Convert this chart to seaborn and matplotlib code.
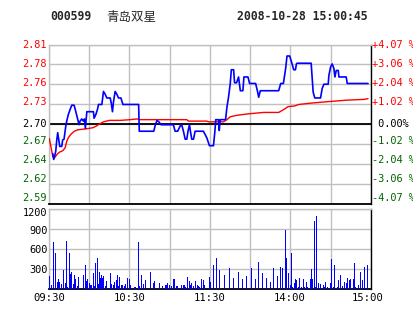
import matplotlib
matplotlib.use("Agg")
import matplotlib.pyplot as plt
import matplotlib.transforms as mtrans
import seaborn as sns
import pandas as pd

sns.set_style("white")
plt.rcParams['font.family'] = ['DejaVu Sans Mono', 'Noto Sans CJK SC']

# ---------------- data ----------------
stock_code = "000599"
stock_name = "青岛双星"
timestamp = "2008-10-28 15:00:45"
prev_close = 2.70
max_pct = 4.07

price_labels = ["2.59", "2.62", "2.64", "2.67", "2.70", "2.73", "2.76", "2.78", "2.81"]
pct_labels = ["-4.07 %", "-3.06 %", "-2.04 %", "-1.02 %", " 0.00%", "+1.02 %", "+2.04 %", "+3.06 %", "+4.07 %"]
vol_labels = ["300", "600", "900", "1200"]
vol_ticks = [300, 600, 900, 1200]
time_labels = ["09:30", "10:30", "11:30", "14:00", "15:00"]
time_ticks = [0, 60, 120, 180, 240]

# minute index since 09:30 (lunch break removed) and price
price_t = [2.8, 3.5, 4.5, 5.0, 5.8, 6.5, 7.3, 8.0, 9.5, 10.2, 11.2, 12.5, 13.2, 14.4, 15.7, 17.0,
           18.7, 20.0, 21.2, 22.4, 23.2, 24.4, 25.6, 26.4, 27.1, 28.2, 33.1, 33.6, 34.9, 36.1, 36.9,
           39.4, 40.6, 41.9, 43.1, 45.6, 46.4, 47.3, 48.1, 49.3, 50.6, 51.8, 53.6, 55.1, 66.8, 67.3,
           78.1, 79.3, 80.5, 81.9, 83.5, 92.7, 94.0, 95.9, 97.7, 98.9, 100.2, 101.5, 102.7, 103.6,
           104.7, 105.4, 106.4, 107.7, 108.9, 115.1, 117.6, 119.6, 122.6, 123.6, 124.3, 126.4, 126.9,
           127.6, 131.6, 132.6, 133.8, 135.1, 135.9, 137.6, 138.3, 139.8, 141.3, 142.6, 144.5, 145.3,
           148.3, 149.5, 154.0, 155.3, 156.3, 157.5, 158.9, 171.2, 172.7, 174.7, 176.4, 177.4, 179.4,
           181.2, 182.4, 183.7, 184.4, 184.9, 195.4, 196.1, 196.9, 198.1, 202.4, 203.6, 204.9, 208.1,
           208.6, 209.9, 211.1, 212.3, 213.1, 214.1, 215.6, 216.1, 221.5, 222.3, 237.8]
price_v = [2.659, 2.651, 2.658, 2.662, 2.678, 2.688, 2.678, 2.669, 2.669, 2.678, 2.679, 2.697, 2.704,
           2.713, 2.720, 2.726, 2.726, 2.717, 2.708, 2.699, 2.704, 2.707, 2.704, 2.707, 2.694, 2.717,
           2.717, 2.708, 2.713, 2.720, 2.727, 2.727, 2.745, 2.741, 2.736, 2.736, 2.729, 2.717, 2.731,
           2.745, 2.741, 2.736, 2.736, 2.727, 2.727, 2.690, 2.690, 2.699, 2.705, 2.703, 2.699, 2.699,
           2.690, 2.690, 2.697, 2.699, 2.690, 2.679, 2.679, 2.690, 2.699, 2.690, 2.679, 2.679, 2.690,
           2.690, 2.681, 2.670, 2.670, 2.689, 2.706, 2.706, 2.691, 2.706, 2.706, 2.723, 2.737, 2.756,
           2.775, 2.775, 2.757, 2.757, 2.765, 2.746, 2.746, 2.765, 2.765, 2.756, 2.756, 2.746, 2.737,
           2.746, 2.746, 2.746, 2.756, 2.756, 2.777, 2.794, 2.794, 2.783, 2.775, 2.775, 2.783, 2.784,
           2.784, 2.765, 2.744, 2.736, 2.736, 2.749, 2.755, 2.755, 2.767, 2.779, 2.783, 2.777, 2.765,
           2.774, 2.774, 2.765, 2.765, 2.756, 2.756]

avg_t = [0.2, 1.5, 2.8, 4.0, 6.0, 7.7, 10.2, 12.0, 13.2, 14.4, 16.4, 18.9, 21.5, 26.4, 30.1, 32.9,
         35.1, 37.6, 40.6, 45.1, 53.1, 60.6, 65.6, 68.0, 102.7, 103.9, 117.6, 118.9, 130.1, 132.6,
         135.1, 140.0, 148.3, 160.0, 171.2, 175.0, 178.2, 183.2, 186.2, 196.1, 208.6, 222.3, 234.8, 237.8]
avg_v = [2.680, 2.668, 2.655, 2.653, 2.658, 2.661, 2.663, 2.667, 2.676, 2.681, 2.686, 2.690, 2.692,
         2.693, 2.694, 2.695, 2.697, 2.700, 2.703, 2.705, 2.705, 2.706, 2.707, 2.706, 2.706, 2.704,
         2.704, 2.703, 2.703, 2.706, 2.710, 2.712, 2.714, 2.716, 2.716, 2.720, 2.724, 2.725, 2.727,
         2.729, 2.731, 2.733, 2.734, 2.735]

vol_t = [0.7, 1.5, 3.2, 4.7, 6.5, 7.3, 8.0, 9.2, 10.7, 12.2, 12.9, 13.7, 15.2, 15.7, 16.7, 18.2, 18.9,
         19.7, 20.9, 21.9, 25.4, 27.1, 27.9, 28.6, 30.1, 30.9, 31.9, 33.1, 33.9, 34.6, 36.1, 36.9,
         37.6, 38.4, 39.1, 40.2, 40.6, 41.9, 42.8, 45.8, 46.9, 48.4, 49.1, 50.1, 51.1, 51.8, 52.6,
         54.1, 55.1, 56.1, 57.0, 58.5, 60.0, 61.1, 64.1, 66.8, 67.5, 69.0, 70.5, 72.0, 75.7, 78.0,
         78.7, 82.5, 84.7, 86.9, 87.7, 88.4, 89.9, 91.4, 92.9, 93.7, 94.7, 95.9, 98.9, 100.0, 101.2,
         101.9, 103.4, 104.9, 105.6, 106.4, 107.9, 108.9, 110.4, 111.2, 111.9, 113.9, 114.9, 115.7,
         119.9, 120.4, 122.6, 124.9, 127.1, 130.8, 134.6, 137.6, 141.3, 144.3, 147.3, 151.0, 154.0,
         156.3, 159.2, 162.2, 165.2, 167.5, 170.5, 172.7, 173.7, 174.4, 176.4, 177.1, 178.2, 179.7,
         180.4, 181.5, 182.7, 183.4, 184.2, 185.6, 186.4, 188.2, 189.4, 190.7, 191.6, 192.7, 194.6,
         195.7, 196.4, 197.6, 198.4, 199.1, 200.6, 202.1, 204.3, 205.4, 206.4, 207.6, 209.6, 210.8,
         212.1, 213.1, 215.1, 216.1, 217.1, 219.1, 220.0, 221.5, 222.3, 224.3, 225.0, 227.0, 227.8,
         228.8, 231.0, 232.0, 234.0, 235.0, 237.2]
vol_v = [193, 50, 707, 530, 94, 143, 94, 65, 280, 85, 717, 25, 540, 219, 245, 65, 200,
         143, 35, 170, 200, 355, 120, 143, 85, 50, 50, 230, 40, 380, 465, 65,
         245, 160, 210, 160, 185, 40, 110, 230, 75, 50, 100, 125, 200, 40, 175,
         60, 50, 35, 75, 160, 143, 50, 30, 707, 35, 200, 75, 125, 255, 80,
         110, 90, 35, 50, 50, 90, 60, 35, 150, 140, 40, 35, 60, 60, 60,
         30, 170, 110, 50, 90, 35, 110, 50, 35, 30, 140, 125, 50,
         170, 100, 354, 460, 278, 202, 308, 156, 248, 141, 187, 308, 141,
         400, 232, 156, 96, 308, 187, 330, 315, 300, 886, 455, 240, 60,
         541, 30, 85, 140, 125, 30, 165, 30, 150, 30, 105, 30, 150,
         295, 140, 1012, 30, 1088, 85, 75, 50, 30, 100, 30, 90, 445,
         30, 355, 30, 130, 205, 35, 105, 90, 165, 125, 140, 150, 390,
         30, 60, 255, 130, 320, 355]

# ---------------- styling ----------------
W, H = 414, 314
GRID = "#c0c0c0"
RED = "#ff0000"
GREEN = "#006600"
FS = 7.4

fig = plt.figure(figsize=(W / 100, H / 100), dpi=100)
fig.patch.set_facecolor("white")

ax_p = fig.add_axes([49 / W, 1 - 203.5 / H, 322 / W, 159 / H])
ax_v = fig.add_axes([49 / W, 1 - 288.5 / H, 322 / W, 79.5 / H])

span = prev_close * max_pct / 100
ymin, ymax = prev_close - span, prev_close + span
price_grid = [ymin + k * (ymax - ymin) / 8 for k in range(9)]

for ax in (ax_p, ax_v):
    ax.set_xlim(0, 240)
    ax.set_xticks(list(range(0, 241, 30)))
    ax.tick_params(length=0, labelbottom=False, labelleft=False)
    ax.grid(True, color=GRID, lw=1.0)
    ax.set_axisbelow(True)
    for s in ("top", "left"):
        ax.spines[s].set_color(GRID)
        ax.spines[s].set_linewidth(1.0)
    ax.spines["right"].set_color("black")
    ax.spines["right"].set_linewidth(1.0)
    ax.spines["bottom"].set_color("black")
    ax.spines["bottom"].set_linewidth(1.3)

# price panel
ax_p.set_ylim(ymin, ymax)
ax_p.set_yticks(price_grid)
ax_p.axhline(prev_close, color="black", lw=1.3, zorder=2)

df_price = pd.DataFrame({"t": price_t, "p": price_v})
df_avg = pd.DataFrame({"t": avg_t, "p": avg_v})
sns.lineplot(data=df_avg, x="t", y="p", ax=ax_p, color=RED, lw=1.0,
             estimator=None, sort=False, zorder=3)
sns.lineplot(data=df_price, x="t", y="p", ax=ax_p, color="#0000ff", lw=1.2,
             estimator=None, sort=False, zorder=4)
ax_p.set_xlabel("")
ax_p.set_ylabel("")

# label offsets (pixels upward) from bottom to top
label_off = [5.5, 5.0, 4.0, 2.5, 0.0, 2.0, 1.5, 0.5, -0.5]
for k, (val, pl, cl) in enumerate(zip(price_grid, price_labels, pct_labels)):
    if k > 4:
        col = RED
    elif k < 4:
        col = GREEN
    else:
        col = "black"
    off = mtrans.ScaledTranslation(0, label_off[k] / 100, fig.dpi_scale_trans)
    trl = mtrans.blended_transform_factory(ax_p.transAxes, ax_p.transData) + off
    ax_p.text(-2.5 / 322, val, pl, transform=trl, ha="right", va="center",
              fontsize=FS, color=col, family="DejaVu Sans Mono")
    ax_p.text(1 + 1 / 322, val, cl, transform=trl, ha="left", va="center",
              fontsize=FS, color=col, family="DejaVu Sans Mono")

# volume panel
ax_v.set_ylim(0, 1200)
ax_v.set_yticks([0] + vol_ticks)
ax_v.bar(vol_t, vol_v, width=0.75, color="#0000ff", linewidth=0, zorder=3,
         antialiased=False)
vol_off = [1.0, 1.0, 2.0, 3.5]
for v, lab, o in zip(vol_ticks, vol_labels, vol_off):
    tr = mtrans.blended_transform_factory(ax_v.transAxes, ax_v.transData) + \
        mtrans.ScaledTranslation(0, -o / 100, fig.dpi_scale_trans)
    ax_v.text(-1.5 / 322, v, lab, transform=tr, ha="right", va="center",
              fontsize=FS, color="black", family="DejaVu Sans Mono")

time_shift = [0, 0, 0, -1, -3.5]
for t, lab, sh in zip(time_ticks, time_labels, time_shift):
    tr = mtrans.blended_transform_factory(ax_v.transData, fig.transFigure) + \
        mtrans.ScaledTranslation(sh / 100, 0, fig.dpi_scale_trans)
    ax_v.text(t, 1 - 298 / H, lab, transform=tr, ha="center", va="center",
              fontsize=7.6, color="black", family="DejaVu Sans Mono")

# header
fig.text(50 / W, 1 - 17 / H, stock_code, ha="left", va="center", fontsize=8.3,
         fontweight="bold", family="DejaVu Sans Mono")
fig.text(106 / W, 1 - 17 / H, stock_name, ha="left", va="center", fontsize=9,
         family=["Noto Sans CJK SC", "DejaVu Sans"])
fig.text(237.5 / W, 1 - 17 / H, timestamp, ha="left", va="center", fontsize=8.3,
         fontweight="bold", family="DejaVu Sans Mono")

fig.savefig("out.png", dpi=100)
